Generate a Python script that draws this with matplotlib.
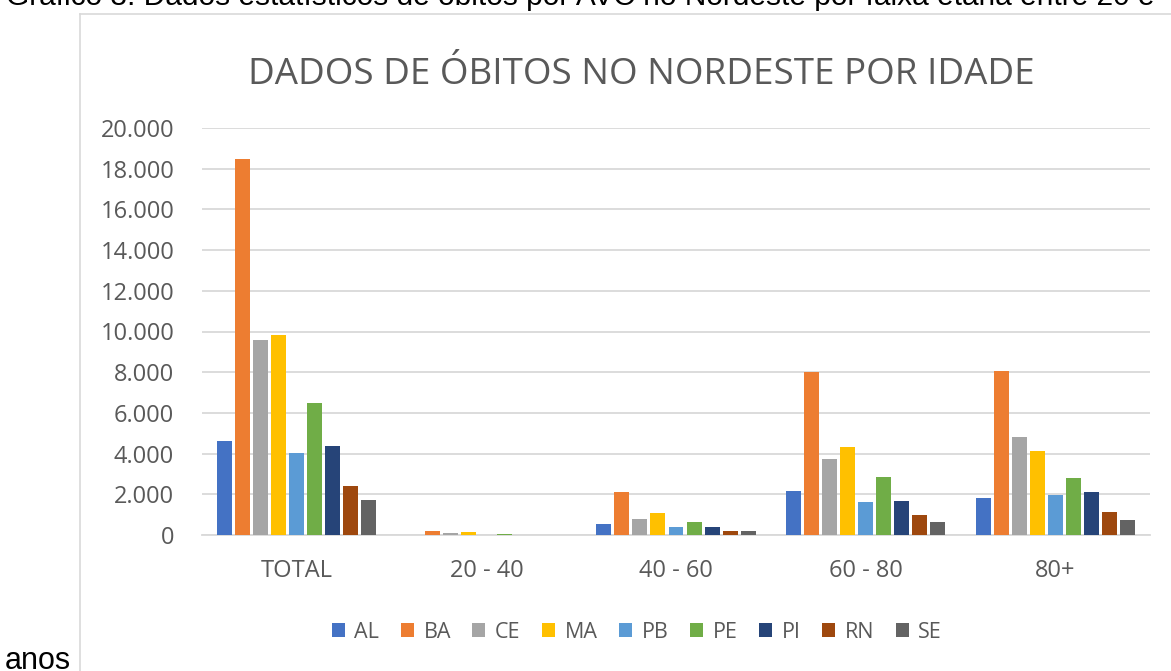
import matplotlib
matplotlib.use("Agg")
import matplotlib.pyplot as plt
from matplotlib.lines import Line2D
from matplotlib.ticker import FuncFormatter
import numpy as np

# ---- data ----
categories = ["TOTAL", "20 - 40", "40 - 60", "60 - 80", "80+"]
states = ["AL", "BA", "CE", "MA", "PB", "PE", "PI", "RN", "SE"]
AL = [4630, 15, 520, 2160, 1830]
BA = [18460, 200, 2130, 7990, 8080]
CE = [9570, 90, 780, 3750, 4820]
MA = [9830, 170, 1090, 4320, 4150]
PB = [4040, 15, 370, 1610, 1950]
PE = [6480, 70, 650, 2870, 2810]
PI = [4350, 15, 390, 1660, 2110]
RN = [2390, 10, 200, 990, 1120]
SE = [1720, 10, 200, 660, 730]
series = [AL, BA, CE, MA, PB, PE, PI, RN, SE]
colors = ["#4472C4", "#ED7D31", "#A5A5A5", "#FFC000", "#5B9BD5",
          "#70AD47", "#264478", "#9E480E", "#636363"]
yticks = [0, 2000, 4000, 6000, 8000, 10000, 12000, 14000, 16000, 18000, 20000]

title = "DADOS DE ÓBITOS NO NORDESTE POR IDADE"
caption = ("Gráfico 3: Dados estatísticos de óbitos por AVC no Nordeste por "
           "faixa etária entre 20 e")
caption_end = "anos"

W, H = 1171, 671
fig = plt.figure(figsize=(W / 100, H / 100), dpi=100)
fig.patch.set_facecolor("white")

FONT = ["Open Sans", "DejaVu Sans"]
TXT = "#595959"

ax = fig.add_axes([202 / W, 1 - 535 / H, (1150 - 202) / W, (535 - 128) / H])
x = np.arange(len(categories))
pitch = 0.095
bw = 0.079
for j, (name, vals, c) in enumerate(zip(states, series, colors)):
    ax.bar(x + (j - 4) * pitch, vals, width=bw, color=c, label=name, zorder=3)

ax.set_xlim(-0.5, len(categories) - 0.5)
ax.set_ylim(0, 20000)
ax.set_yticks(yticks)
ax.yaxis.set_major_formatter(FuncFormatter(lambda v, p: f"{int(v):,}".replace(",", ".")))
ax.set_xticks(x)
ax.set_xticklabels(categories)
ax.grid(axis="y", color="#d9d9d9", linewidth=1.3, zorder=0)
ax.tick_params(axis="both", length=0, labelsize=17, colors=TXT)
ax.tick_params(axis="y", pad=20)
ax.tick_params(axis="x", pad=17)
for lab in ax.get_xticklabels() + ax.get_yticklabels():
    lab.set_family(FONT)
for s in ["top", "right", "left"]:
    ax.spines[s].set_visible(False)
ax.spines["bottom"].set_color("#d9d9d9")
ax.spines["bottom"].set_linewidth(1.3)

fig.text(641 / W, 1 - 84 / H, title, ha="center", va="baseline",
         fontsize=26.5, color=TXT, family=FONT)

handles, labels = ax.get_legend_handles_labels()
leg = fig.legend(handles, labels, loc="center", ncol=9,
                 bbox_to_anchor=(637 / W, 1 - 632 / H), frameon=False,
                 prop={"family": FONT, "size": 15.5},
                 handlelength=0.6, handleheight=0.6, handletextpad=0.45,
                 columnspacing=1.0)
for t in leg.get_texts():
    t.set_color(TXT)

# chart frame (left and top edges visible)
fig.add_artist(Line2D([80 / W, 80 / W], [-0.1, 1 - 14 / H], transform=fig.transFigure,
                      color="#d9d9d9", linewidth=1.2))
fig.add_artist(Line2D([80 / W, 1.1], [1 - 14 / H, 1 - 14 / H], transform=fig.transFigure,
                      color="#d9d9d9", linewidth=1.2))

# surrounding document text (partly cut off in the reference)
fig.text(6 / W, 1 - 5 / H, caption, ha="left", va="baseline", fontsize=21.5,
         color="black", family=["Liberation Sans", "DejaVu Sans"])
fig.text(5 / W, 1 - 669 / H, caption_end, ha="left", va="baseline", fontsize=22,
         color="black", family=["Liberation Sans", "DejaVu Sans"])

fig.savefig("out.png", dpi=100)
